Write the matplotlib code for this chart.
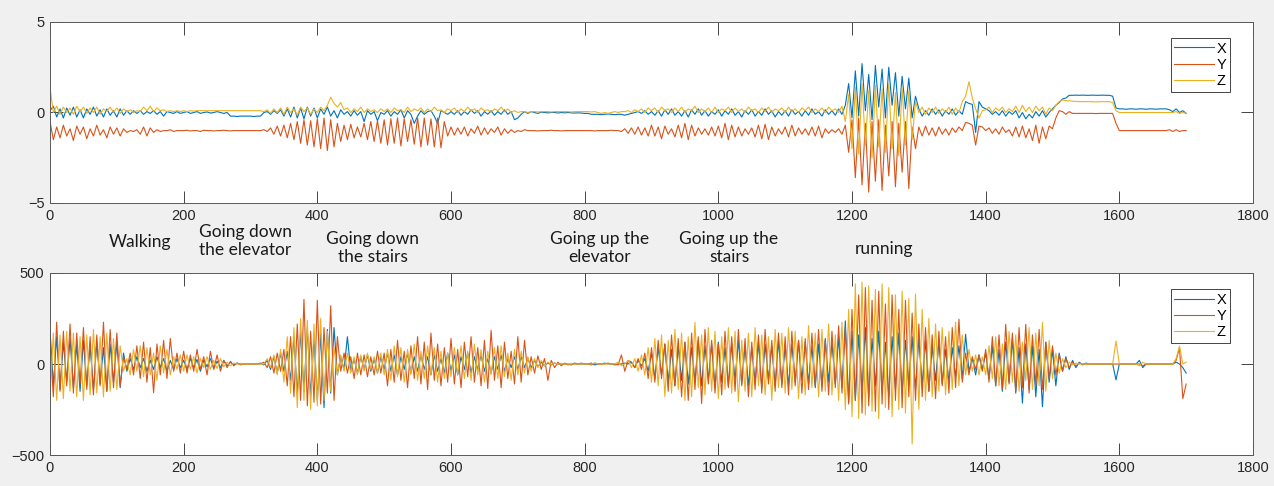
import numpy as np
import matplotlib
matplotlib.use("Agg")
import matplotlib.pyplot as plt
from matplotlib.transforms import blended_transform_factory

# ---------------- data (sample step 5, one block per 100 samples) ----------------
STEP = 5
BLOCK = 100

acc_x = [
    [0.1, 0.35, -0.25, 0.2, -0.3, 0.25, -0.15, 0.3, -0.25, 0.15, -0.3, 0.2, -0.1, 0.3, -0.2, 0.15, -0.25, 0.2, -0.15, 0.1],
    [-0.25, 0.2, -0.15, 0.1, -0.1, 0.1, -0.05, 0.1, -0.1, 0.05, -0.05, 0.1, -0.1, 0.05, -0.2, 0.05, 0.0, -0.05, 0.05, -0.05],
    [0.0, 0.05, -0.05, 0.0, 0.05, -0.05, 0.0, 0.03, -0.03, 0.0, 0.05, 0.0, -0.05, 0.0, -0.2, -0.2, -0.22, -0.2, -0.2, -0.2],
    [-0.2, -0.22, -0.2, -0.2, 0.0, 0.05, -0.1, 0.1, -0.05, 0.15, -0.2, 0.2, -0.25, 0.3, -0.3, 0.25, -0.35, 0.3, -0.2, 0.25],
    [-0.3, 0.2, -0.1, 0.3, -0.2, 0.1, -0.3, 0.15, -0.1, 0.05, -0.2, 0.1, -0.15, 0.05, -0.5, 0.1, -0.1, 0.05, -0.45, 0.0],
    [-0.1, 0.1, -0.2, 0.05, -0.1, 0.15, -0.3, 0.1, -0.1, -0.6, -0.2, 0.1, -0.1, 0.05, 0.1, -0.2, -0.6, 0.1, 0.0, -0.1],
    [0.05, -0.1, 0.1, -0.15, 0.05, -0.1, 0.15, -0.05, 0.1, -0.2, 0.05, -0.1, 0.1, -0.15, 0.05, -0.1, 0.15, -0.1, 0.05, -0.4],
    [-0.3, -0.1, 0.05, -0.05, 0.05, 0.0, -0.05, 0.02, 0.0, -0.02, 0.0, 0.0, -0.03, 0.0, -0.02, 0.0, -0.02, -0.03, -0.02, -0.03],
    [-0.05, -0.05, -0.1, -0.1, -0.1, -0.12, -0.1, -0.08, -0.1, -0.12, -0.1, -0.1, -0.15, -0.1, -0.05, 0.0, 0.05, -0.05, 0.1, -0.1],
    [0.05, -0.15, 0.1, -0.2, 0.15, -0.1, 0.2, -0.15, 0.05, -0.2, 0.1, -0.25, 0.15, -0.1, 0.2, -0.15, 0.1, -0.2, 0.05, -0.1],
    [0.15, -0.2, 0.1, -0.1, 0.2, -0.15, 0.05, -0.25, 0.1, -0.1, 0.15, -0.2, 0.05, -0.15, 0.2, -0.1, 0.1, -0.25, 0.05, -0.15],
    [0.1, -0.2, 0.15, -0.1, 0.05, -0.2, 0.1, -0.15, 0.2, -0.1, 0.05, -0.2, 0.15, -0.1, 0.1, -0.15, 0.2, -0.1, 0.4, 1.6],
    [-0.3, 2.3, -0.2, 2.7, 0.1, 2.1, -0.4, 2.6, 0.3, 2.4, -0.3, 2.5, 0.4, 2.2, -0.2, 2.0, 0.2, 1.9, -0.3, 0.9],
    [0.2, -0.2, 0.1, -0.15, 0.2, -0.1, 0.15, -0.2, 0.1, -0.1, 0.2, -0.15, 0.1, -0.1, 0.6, 0.5, 0.45, -1.1, 0.6, 0.3],
    [0.2, 0.1, -0.1, 0.05, -0.15, 0.1, -0.2, 0.05, -0.1, 0.1, -0.3, 0.0, -0.35, -0.1, -0.3, 0.05, -0.2, 0.1, -0.25, 0.0],
    [0.2, 0.4, 0.55, 0.75, 0.8, 0.95, 0.95, 0.96, 0.95, 0.96, 0.95, 0.95, 0.96, 0.95, 0.95, 0.96, 0.95, 0.95, 0.9, 0.25],
    [0.2, 0.2, 0.18, 0.2, 0.2, 0.18, 0.2, 0.2, 0.18, 0.2, 0.2, 0.18, 0.2, 0.2, 0.2, 0.15, 0.05, 0.2, 0.0, 0.1],
    [-0.05],
]

acc_y = [
    [-0.5, -1.5, -0.8, -1.4, -0.7, -1.3, -0.9, -1.55, -0.75, -1.2, -0.8, -1.45, -0.9, -1.3, -0.7, -1.25, -0.95, -1.4, -0.8, -1.2],
    [-0.85, -1.3, -0.9, -1.1, -1.0, -1.05, -0.95, -1.2, -0.8, -1.3, -0.85, -1.1, -0.95, -1.05, -1.0, -1.0, -0.95, -1.05, -1.0, -1.0],
    [-1.0, -0.98, -1.02, -1.0, -1.0, -1.05, -0.98, -1.0, -1.0, -1.02, -1.0, -1.0, -0.98, -1.0, -1.02, -1.0, -1.0, -1.0, -1.0, -1.0],
    [-1.0, -1.0, -1.0, -1.0, -0.95, -1.05, -0.85, -1.2, -0.75, -1.3, -0.7, -1.4, -0.6, -1.5, -0.5, -1.7, -0.4, -1.8, -0.45, -1.9],
    [-0.35, -2.0, -0.3, -2.1, -0.4, -1.9, -0.6, -1.6, -0.7, -1.5, -0.65, -1.4, -0.8, -1.35, -0.6, -1.5, -0.5, -1.6, -0.45, -1.7],
    [-0.4, -1.8, -0.35, -1.7, -0.3, -1.85, -0.35, -1.6, -0.4, -1.75, -0.3, -1.9, -0.3, -1.8, -0.35, -1.9, -0.3, -1.95, -0.5, -1.3],
    [-0.8, -1.25, -0.85, -1.2, -0.8, -1.3, -0.9, -1.15, -0.75, -1.25, -0.85, -1.2, -0.9, -1.1, -0.8, -1.25, -0.9, -1.15, -0.95, -1.1],
    [-1.0, -1.05, -0.95, -1.0, -1.0, -1.0, -1.02, -1.0, -1.0, -1.0, -0.98, -1.0, -1.0, -1.02, -1.0, -1.0, -1.0, -1.0, -1.0, -1.0],
    [-1.0, -1.0, -1.0, -1.02, -1.0, -1.0, -1.0, -1.0, -0.98, -1.0, -1.0, -1.05, -0.9, -1.15, -0.85, -1.2, -0.8, -1.25, -0.85, -1.3],
    [-0.7, -1.3, -0.8, -1.45, -0.75, -1.2, -0.9, -1.35, -0.7, -1.4, -0.6, -1.5, -0.7, -1.3, -0.85, -1.2, -0.9, -1.25, -0.8, -1.3],
    [-0.75, -1.4, -0.6, -1.5, -0.7, -1.35, -0.8, -1.3, -0.9, -1.2, -0.85, -1.35, -0.7, -1.45, -0.65, -1.5, -0.8, -1.3, -0.9, -1.2],
    [-0.8, -1.35, -0.7, -1.3, -0.85, -1.2, -0.9, -1.25, -0.8, -1.3, -0.75, -1.4, -0.9, -1.15, -0.95, -1.1, -0.9, -1.2, -0.7, -2.2],
    [-0.4, -3.6, -0.3, -4.0, -0.6, -4.4, -0.5, -3.8, -0.4, -4.3, -0.7, -3.5, -0.5, -4.1, -0.6, -3.3, -0.5, -4.2, -0.8, -2.0],
    [-0.8, -1.3, -0.75, -1.25, -0.85, -1.3, -0.8, -1.2, -0.9, -1.25, -0.85, -1.1, -0.8, -1.0, -0.55, -0.6, -0.7, -1.8, -0.75, -0.8],
    [-1.0, -0.85, -1.15, -0.9, -1.2, -0.8, -1.1, -0.95, -1.3, -0.8, -1.35, -0.75, -1.4, -0.9, -1.55, -0.7, -1.7, -0.8, -1.45, -0.75],
    [-0.9, -0.3, 0.1, 0.05, -0.1, 0.05, -0.05, -0.05, -0.05, -0.05, -0.05, -0.05, -0.05, -0.06, -0.05, -0.05, -0.05, -0.05, -0.05, -0.6],
    [-1.0, -1.0, -1.0, -1.0, -1.0, -1.0, -1.0, -1.0, -1.0, -1.0, -1.0, -1.0, -1.0, -1.0, -1.0, -0.95, -1.05, -0.95, -1.05, -1.0],
    [-1.0],
]

acc_z = [
    [1.4, 0.0, 0.35, -0.1, 0.3, 0.0, 0.25, -0.1, 0.35, 0.05, 0.3, -0.05, 0.25, 0.0, 0.3, -0.1, 0.2, 0.05, 0.3, 0.0],
    [0.25, -0.05, 0.2, 0.05, 0.15, 0.0, 0.1, 0.05, 0.3, 0.1, 0.35, 0.05, 0.25, 0.1, 0.15, 0.05, 0.1, 0.05, 0.1, 0.05],
    [0.1, 0.05, 0.1, 0.08, 0.1, 0.1, 0.1, 0.1, 0.1, 0.1, 0.1, 0.1, 0.1, 0.1, 0.1, 0.1, 0.1, 0.1, 0.1, 0.1],
    [0.1, 0.1, 0.1, 0.1, 0.05, 0.15, -0.05, 0.2, 0.0, 0.25, -0.1, 0.3, 0.0, 0.2, -0.15, 0.3, 0.05, 0.25, -0.1, 0.2],
    [0.0, 0.3, 0.1, 0.4, 0.85, 0.5, 0.3, 0.55, 0.15, 0.25, 0.0, 0.2, 0.05, 0.3, 0.0, 0.2, 0.05, 0.15, 0.0, 0.2],
    [0.05, 0.2, 0.0, 0.25, 0.1, 0.15, 0.0, 0.3, 0.05, 0.2, 0.1, 0.25, 0.0, 0.2, 0.05, 0.3, 0.1, 0.15, 0.0, 0.2],
    [0.1, 0.25, 0.0, 0.2, 0.05, 0.3, 0.1, 0.2, 0.0, 0.25, 0.1, 0.15, 0.0, 0.2, 0.1, 0.3, 0.05, 0.2, 0.0, 0.1],
    [0.0, 0.05, 0.05, 0.0, 0.05, 0.05, 0.03, 0.05, 0.05, 0.05, 0.03, 0.05, 0.05, 0.05, 0.05, 0.05, 0.03, 0.05, 0.05, 0.05],
    [0.05, 0.05, 0.03, 0.05, 0.0, -0.05, 0.0, -0.05, 0.0, 0.05, 0.0, 0.05, 0.05, 0.1, 0.0, 0.15, 0.05, 0.2, 0.0, 0.25],
    [0.1, 0.25, 0.0, 0.3, 0.1, 0.2, 0.0, 0.25, 0.05, 0.3, 0.0, 0.2, 0.1, 0.35, 0.0, 0.2, 0.05, 0.25, 0.0, 0.3],
    [0.0, 0.2, 0.1, 0.3, 0.0, 0.25, 0.05, 0.2, 0.0, 0.3, 0.1, 0.2, 0.0, 0.25, 0.05, 0.3, 0.0, 0.2, 0.1, 0.25],
    [0.0, 0.3, 0.05, 0.2, 0.0, 0.25, 0.1, 0.3, 0.0, 0.2, 0.05, 0.25, 0.0, 0.3, 0.1, 0.2, 0.0, 0.35, -0.5, 1.0],
    [-2.0, 1.4, -2.3, 1.6, -1.8, 1.2, -2.5, 1.5, -1.9, 1.3, -2.2, 1.6, -2.0, 1.1, -2.4, 1.4, -1.8, 1.2, -1.5, 0.6],
    [0.0, 0.3, -0.1, 0.25, 0.0, 0.3, -0.05, 0.2, 0.0, 0.3, -0.1, 0.25, 0.0, 0.6, 0.9, 1.7, 0.8, 0.2, -0.3, 0.1],
    [0.15, 0.3, 0.0, 0.25, 0.1, 0.3, 0.0, 0.2, 0.05, 0.35, 0.0, 0.4, 0.05, 0.3, 0.0, 0.35, 0.1, 0.3, -0.1, 0.25],
    [0.1, 0.4, 0.6, 0.7, 0.65, 0.65, 0.62, 0.62, 0.6, 0.6, 0.6, 0.6, 0.6, 0.58, 0.6, 0.6, 0.6, 0.6, 0.55, 0.1],
    [0.0, 0.0, 0.0, 0.0, 0.0, 0.0, 0.0, 0.0, 0.0, 0.0, 0.0, 0.0, 0.0, 0.0, 0.0, 0.0, 0.0, 0.05, -0.05, 0.0],
    [-0.05],
]

gyr_x = [
    [190, -120, 150, -140, 120, -100, 140, -130, 110, -150, 130, -120, 100, -140, 120, -110, 90, -150, 110, -100],
    [120, -130, 60, -40, 30, -30, 40, -20, 30, -40, 20, -30, 40, -20, 30, -40, 20, -30, 30, -20],
    [20, -30, 30, -20, 25, -40, 20, -15, 30, -25, 15, -20, 20, -10, 10, -5, 5, 0, 0, 0],
    [0, 0, 0, 5, -5, 20, -30, 40, -50, 60, -40, 70, -90, 150, -170, 180, -150, 200, -180, 150],
    [-200, 170, -240, 190, -160, 200, -60, 40, -30, 150, -40, 30, -50, 40, -30, 50, -40, 30, -50, 40],
    [-30, 60, -40, 50, -60, 40, -30, 60, -50, 40, -40, 50, -30, 40, -60, 50, -40, 30, -50, 60],
    [-40, 50, -60, 40, -30, 60, -50, 40, -30, 50, -40, 30, -50, 40, -30, 50, -40, 30, -20, 40],
    [-30, 40, -20, 30, -20, 20, -15, 10, -10, 5, -5, 5, 0, 0, 0, 0, -5, 5, 0, 0],
    [0, 0, 5, -5, 0, 0, 5, 0, 0, -5, 0, 0, 5, 0, 10, -20, 20, -10, 30, -40],
    [60, -80, 90, -60, 110, -100, 80, -120, 100, -90, 120, -110, 90, -100, 130, -120, 100, -90, 110, -130],
    [120, -100, 90, -120, 110, -90, 130, -110, 100, -120, 90, -100, 120, -130, 110, -90, 100, -120, 130, -110],
    [100, -120, 110, -100, 130, -90, 120, -110, 100, -130, 110, -120, 140, -100, 120, -110, 150, -130, 237, -210],
    [180, -200, 160, -150, 200, -190, 140, -120, 180, -160, 120, -180, 150, -140, 170, -160, 130, -120, 150, -140],
    [140, -120, 130, -150, 100, -90, 120, -110, 80, -100, 90, -70, 100, -80, 163, -40, 30, -60, 50, -30],
    [60, -80, 100, -120, 80, -150, 120, -100, 140, -160, 90, -215, 110, -140, 100, -180, 80, -235, 120, -100],
    [80, -120, 60, -40, 40, -30, 20, -20, 10, -5, 5, 0, 0, 0, 0, 0, 0, 0, 0, -87],
    [0, 0, 0, 0, 0, 0, 20, -20, 0, 0, 0, 0, 0, 0, 0, 0, 0, 10, 0, -20],
    [-50],
]

gyr_y = [
    [120, -180, 230, -150, 180, -120, 220, -160, 170, -110, 200, -140, 150, -170, 160, -120, 230, -150, 190, -130],
    [170, -120, 40, -30, 60, -60, 100, -80, 120, -100, 90, -158, 110, -60, 130, -80, 140, -40, 60, -50],
    [70, -50, 50, -40, 80, -30, 40, -60, 70, -30, 50, -40, 20, -20, 15, -10, 5, -5, 0, 0],
    [0, 0, 0, 0, 10, -20, 40, -50, 60, -40, 80, -120, 150, -180, 220, -200, 355, -230, 180, -210],
    [350, -220, 200, -160, 320, -200, 150, -40, 60, -50, 40, -80, 60, -60, 50, -70, 40, -60, 70, -50],
    [60, -120, 80, -100, 130, -90, 70, -130, 100, -80, 150, -110, 120, -140, 170, -90, 110, -120, 90, -100],
    [140, -110, 80, -130, 120, -70, 150, -100, 90, -120, 130, -135, 185, -90, 100, -130, 120, -80, 70, -110],
    [150, -100, 130, -60, 40, -50, 45, -30, 30, -90, 20, -20, 10, -10, 5, -5, 0, 0, 0, 5],
    [0, 0, -5, 5, 0, 0, 0, 5, 0, 0, -5, 50, -40, 20, 10, -20, 30, -30, 60, -80],
    [90, -100, 130, -80, 110, -150, 160, -120, 140, -180, 120, -200, 170, -140, 150, -217, 190, -110, 130, -160],
    [110, -170, 180, -130, 150, -150, 190, -120, 140, -180, 120, -140, 160, -160, 190, -110, 130, -150, 170, -130],
    [150, -170, 180, -120, 130, -160, 140, -140, 170, -120, 190, -150, 130, -170, 180, -130, 210, -160, 200, -220],
    [300, -200, 380, -270, 420, -230, 350, -260, 400, -220, 330, -250, 380, -200, 300, -240, 350, -180, 280, -200],
    [220, -180, 200, -150, 160, -190, 180, -120, 150, -160, 200, -130, 246, -100, 60, -60, 40, -30, 50, -40],
    [80, -100, 150, -120, 160, -140, 218, -110, 170, -150, 200, -130, 218, -160, 160, -120, 190, -140, 120, -80],
    [100, -60, 50, -40, 30, -20, 10, -10, 5, 0, 0, 0, 0, 0, 0, 0, 0, 0, 0, 0],
    [0, 0, 0, 0, 0, 0, 0, -10, 0, 0, 0, 0, 0, 0, 0, 0, 0, 20, 89, -190],
    [-110],
]

gyr_z = [
    [-180, 170, -200, 160, -190, 180, -150, 170, -180, 150, -200, 160, -170, 190, -160, 150, -180, 170, -150, 140],
    [-140, 100, -40, 30, -60, 80, -40, 100, -70, 90, -60, 60, -90, 100, -50, 80, -60, 40, -30, 50],
    [-40, 50, -30, 40, -50, 30, -20, 40, -30, 20, -25, 30, -15, 10, -10, 5, 0, 0, 0, 0],
    [0, 0, 0, 0, 0, 30, -20, 50, -60, 80, -100, 150, -160, 200, -240, 250, -200, 240, -250, 220],
    [-230, 250, -200, 180, -150, 90, -60, 50, -40, 60, -50, 40, -60, 50, -40, 60, -30, 40, -50, 60],
    [-60, 80, -90, 100, -70, 90, -100, 80, -60, 110, -90, 70, -80, 100, -60, 90, -100, 70, -80, 60],
    [-70, 90, -60, 100, -80, 70, -90, 110, -60, 80, -100, 70, -60, 90, -80, 100, -70, 60, -90, 80],
    [-60, 70, -50, 40, -40, 30, -20, 20, -10, 10, -5, 5, 0, 0, 0, 0, 0, 0, 0, 0],
    [0, 0, 0, 5, 0, 0, 0, 0, 0, 0, 10, -10, 0, 20, -20, 30, -40, 50, -60, 90],
    [-100, 140, -120, 160, -180, 130, -160, 190, -140, 170, -200, 150, -180, 228, -130, 160, -170, 200, -150, 180],
    [-190, 150, -140, 200, -160, 180, -207, 130, -150, 170, -180, 200, -120, 160, -170, 150, -200, 190, -130, 170],
    [-160, 200, -140, 180, -190, 150, -170, 210, -130, 170, -180, 190, -150, 220, -170, 160, -200, 230, -250, 300],
    [-290, 440, -300, 450, -280, 430, -260, 410, -300, 440, -240, 420, -290, 380, -250, 400, -270, 360, -440, 385],
    [-250, 300, -200, 250, -180, 220, -150, 200, -170, 180, -140, 230, -120, 160, -60, 80, -40, 50, -60, 40],
    [-60, 100, -80, 150, -120, 110, -140, 180, -100, 160, -150, 120, -90, 200, -140, 170, -120, 228, -150, 130],
    [-80, 60, -50, 30, -20, 10, -5, 5, 0, 0, 0, 0, 0, 0, 0, 0, 0, 0, 0, 126],
    [0, 0, 0, 0, 0, 0, -10, 10, 0, 0, 0, 0, 0, 0, 0, 0, 0, 30, 98, 0],
    [10],
]

series_labels = ["X", "Y", "Z"]
stage_labels = ["Walking", "Going down\nthe elevator", "Going down\nthe stairs",
                "Going up the\nelevator", "Going up the\nstairs", "running"]
stage_x = [135, 292, 483, 823, 1016, 1248]
stage_fig_y = [0.502, 0.505, 0.489, 0.489, 0.489, 0.488]

colors = ["#0072BD", "#D95319", "#EDB120"]
xticks = [0, 200, 400, 600, 800, 1000, 1200, 1400, 1600, 1800]


def unfold(blocks):
    xs, ys = [], []
    for b, blk in enumerate(blocks):
        for i, v in enumerate(blk):
            xs.append(b * BLOCK + i * STEP)
            ys.append(v)
    return np.array(xs), np.array(ys)


plt.rcParams["font.family"] = ["Liberation Sans", "DejaVu Sans"]

fig = plt.figure(figsize=(12.74, 4.86), dpi=100)
fig.patch.set_facecolor("#f0f0f0")

ax1 = fig.add_axes([50 / 1274, 1 - 203 / 486, 1203 / 1274, 181 / 486])
ax2 = fig.add_axes([50 / 1274, 1 - 455 / 486, 1203 / 1274, 182 / 486])

for ax, data, ylim, yt in [
    (ax1, [acc_x, acc_y, acc_z], (-5, 5), [-5, 0, 5]),
    (ax2, [gyr_x, gyr_y, gyr_z], (-500, 500), [-500, 0, 500]),
]:
    for blocks, c, lab in zip(data, colors, series_labels):
        xs, ys = unfold(blocks)
        ax.plot(xs, ys, color=c, lw=0.8, label=lab)
    ax.set_xlim(0, 1800)
    ax.set_ylim(*ylim)
    ax.set_xticks(xticks)
    ax.set_yticks(yt)
    ax.tick_params(direction="in", length=9, width=0.6, top=True, right=True,
                   labelsize=10.5, colors="#262626", pad=4)
    for s in ax.spines.values():
        s.set_color("#5a5a5a")
        s.set_linewidth(0.7)
    leg = ax.legend(loc="upper right", bbox_to_anchor=(0.981, 0.912), fontsize=10.5,
                    handlelength=2.7, handletextpad=0.2, labelspacing=0.15,
                    borderpad=0.25, borderaxespad=0.0, fancybox=False, framealpha=1)
    leg.get_frame().set_edgecolor("#444444")
    leg.get_frame().set_linewidth(0.7)

trans = blended_transform_factory(ax1.transData, fig.transFigure)
for lab, sx, sy in zip(stage_labels, stage_x, stage_fig_y):
    fig.text(sx, sy, lab, transform=trans, ha="center", va="center",
             multialignment="center", fontsize=12.5, family=["Lato", "DejaVu Sans"],
             color="#1a1a1a", linespacing=1.15)

fig.savefig("out.png", dpi=100, facecolor=fig.get_facecolor())
